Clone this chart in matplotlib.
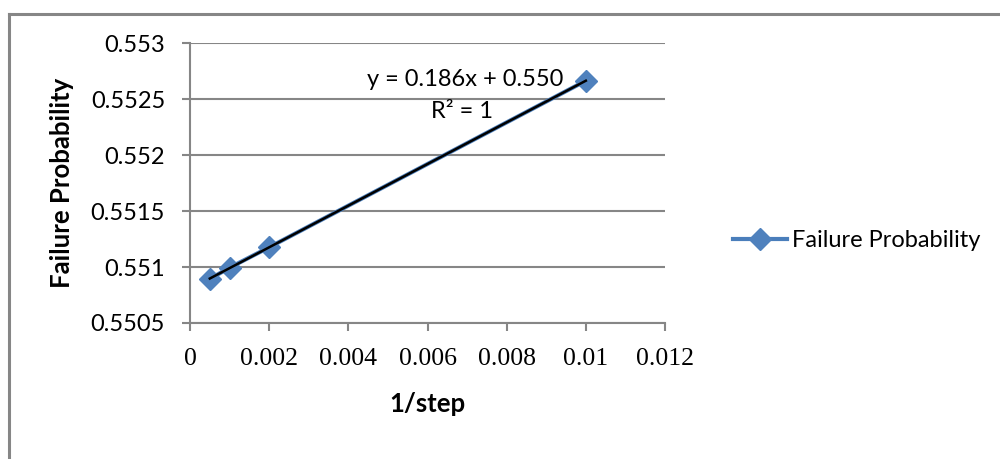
import matplotlib
matplotlib.use('Agg')
import matplotlib.pyplot as plt
from matplotlib.lines import Line2D
import numpy as np

# inverse step size vs. estimated failure probability
inv_step = [0.0005, 0.001, 0.002, 0.01]
fail_prob = [0.550893, 0.550994, 0.551176, 0.552663]

x_ticks = [0, 0.002, 0.004, 0.006, 0.008, 0.01, 0.012]
x_tick_labels = ['0', '0.002', '0.004', '0.006', '0.008', '0.01', '0.012']
y_ticks = [0.5505, 0.551, 0.5515, 0.552, 0.5525, 0.553]
y_tick_labels = ['0.5505', '0.551', '0.5515', '0.552', '0.5525', '0.553']
trend_label = 'y = 0.186x + 0.550'
r2_label = 'R² = 1'

SANS = ['Lato', 'DejaVu Sans']
SERIF = ['Liberation Serif', 'DejaVu Serif']
BLUE = '#4A7EBB'
MARKER = '#4F81BD'
GRID = '#868686'

fig = plt.figure(figsize=(10, 4.59), dpi=100)
ax = fig.add_axes([0.19, 0.2963, 0.475, 0.61])

# frame around the chart (top and left edges only)
fig.add_artist(Line2D([0.009, 1.0], [1 - 14 / 459] * 2, color=GRID, lw=2.2,
                      transform=fig.transFigure))
fig.add_artist(Line2D([0.009, 0.009], [0.0, 1 - 14 / 459], color=GRID, lw=2.2,
                      transform=fig.transFigure))

ax.plot(inv_step, fail_prob, color=BLUE, lw=3, marker='D', markersize=11,
        markerfacecolor=MARKER, markeredgecolor=MARKER, zorder=3,
        label='Failure Probability')

# linear trendline
slope, intercept = np.polyfit(inv_step, fail_prob, 1)
xs = np.array([min(inv_step), max(inv_step)])
ax.plot(xs, slope * xs + intercept, color='black', lw=1.8, zorder=4)
ax.text(0.00695, 0.55267, trend_label, ha='center', va='center', fontsize=17,
        family=SANS)
ax.text(0.00688, 0.552384, r2_label, ha='center', va='center', fontsize=17,
        family=SANS)

ax.set_xlim(0, 0.012)
ax.set_ylim(0.5505, 0.553)
ax.set_xticks(x_ticks)
ax.set_xticklabels(x_tick_labels, family=SERIF, fontsize=18.5)
ax.set_yticks(y_ticks)
ax.set_yticklabels(y_tick_labels, family=SANS, fontsize=17)
ax.tick_params(axis='both', color=GRID, width=1.5, length=6, direction='out')
ax.tick_params(axis='x', pad=12)
ax.tick_params(axis='y', pad=12)

ax.grid(axis='y', color=GRID, lw=1.5)
ax.set_axisbelow(True)
for side in ('top', 'right'):
    ax.spines[side].set_visible(False)
for side in ('left', 'bottom'):
    ax.spines[side].set_color(GRID)
    ax.spines[side].set_linewidth(1.5)

ax.set_xlabel('1/step', fontsize=18.5, fontweight='bold', family=SANS, labelpad=16)
ax.set_ylabel('Failure Probability', fontsize=18.5, fontweight='bold', family=SANS,
              labelpad=12)

fig.legend(handles=ax.get_lines()[:1], loc='center left',
           bbox_to_anchor=(0.733, 1 - 241 / 459), frameon=False,
           borderpad=0, borderaxespad=0,
           prop={'family': SANS, 'size': 17}, handlelength=2.3,
           handletextpad=0.2)

fig.savefig('out.png', dpi=100, facecolor='white')
